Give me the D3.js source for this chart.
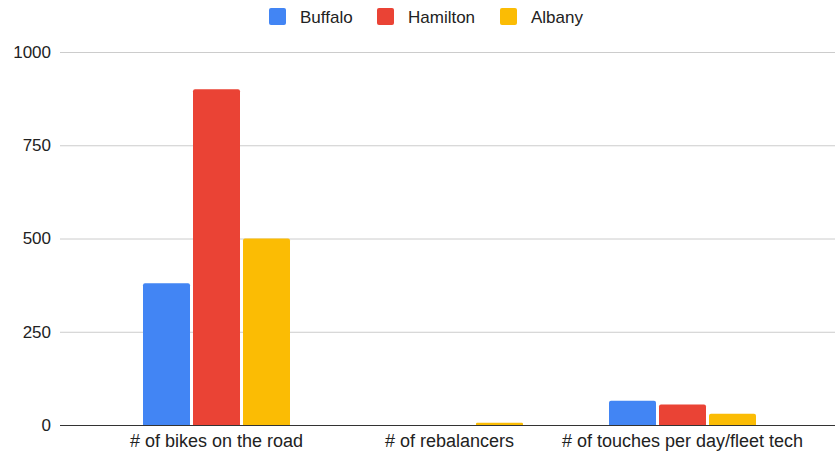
<!DOCTYPE html>
<html>
<head>
<meta charset="utf-8">
<script src="https://cdn.jsdelivr.net/npm/d3@7"></script>
<style>
  html, body { margin: 0; padding: 0; background: #fff; }
  svg { display: block; font-family: "Liberation Sans", Arial, sans-serif; }
</style>
</head>
<body>
<svg id="chart" width="835" height="456"></svg>
<script>
const categories = ["# of bikes on the road", "# of rebalancers", "# of touches per day/fleet tech"];
const seriesNames = ["Buffalo", "Hamilton", "Albany"];
const seriesColors = ["#4285F4", "#EA4335", "#FBBC04"];
const buffalo = [380, 0, 65];
const hamilton = [900, 0, 55];
const albany = [500, 6, 30];
const yTicks = [0, 250, 500, 750, 1000];

const seriesValues = [buffalo, hamilton, albany];

const svg = d3.select("#chart");
const plot = { left: 60, right: 835, top: 52, bottom: 425 };

const y = d3.scaleLinear().domain([0, 1000]).range([plot.bottom, plot.top]);
const x0 = d3.scaleBand().domain(categories).range([100, 799]);
const groupW = 147;
const x1 = d3.scaleBand().domain(seriesNames).range([0, groupW]).paddingInner(0.06);

// gridlines + tick labels
const yAxis = d3.axisLeft(y).tickValues(yTicks).tickFormat(d3.format("d"))
  .tickSize(-(plot.right - plot.left)).tickPadding(10);
const gy = svg.append("g").attr("transform", `translate(${plot.left},0)`).call(yAxis);
gy.select(".domain").remove();
gy.selectAll(".tick line").attr("stroke", "#cccccc").attr("stroke-width", 1);
gy.selectAll(".tick text")
  .attr("fill", "#222")
  .style("font-size", "17px")
  .attr("x", -9);

// bars
const groups = svg.append("g").selectAll("g")
  .data(categories)
  .join("g")
  .attr("transform", c => `translate(${x0(c) + (x0.bandwidth() - groupW) / 2},0)`);

groups.selectAll("path")
  .data((c, ci) => seriesNames.map((s, si) => ({ s, v: seriesValues[si][ci], color: seriesColors[si] })))
  .join("path")
  .attr("fill", d => d.color)
  .attr("d", d => {
    const x = x1(d.s), w = x1.bandwidth();
    const top = y(d.v), bot = y(0);
    const h = bot - top;
    if (h <= 0) return "";
    const r = Math.min(2, h / 2);
    return `M${x},${bot}V${top + r}Q${x},${top} ${x + r},${top}H${x + w - r}Q${x + w},${top} ${x + w},${top + r}V${bot}Z`;
  });

// baseline
svg.append("line")
  .attr("x1", plot.left).attr("x2", plot.right)
  .attr("y1", y(0) + 0.5).attr("y2", y(0) + 0.5)
  .attr("stroke", "#333").attr("stroke-width", 1.2);

// category axis labels
const xAxis = d3.axisBottom(x0).tickSize(0).tickPadding(9);
const gx = svg.append("g").attr("transform", `translate(0,${plot.bottom})`).call(xAxis);
gx.select(".domain").remove();
gx.selectAll(".tick text").attr("fill", "#222").style("font-size", "18px");

// legend
const legendX = [269, 377, 500];
const lg = svg.append("g");
const li = lg.selectAll("g").data(seriesNames).join("g")
  .attr("transform", (d, i) => `translate(${legendX[i]},8)`);
li.append("rect").attr("width", 17).attr("height", 17).attr("rx", 2)
  .attr("fill", (d, i) => seriesColors[i]);
li.append("text").attr("x", 31).attr("y", 14.5)
  .attr("fill", "#222").style("font-size", "17px").text(d => d);
</script>
</body>
</html>
